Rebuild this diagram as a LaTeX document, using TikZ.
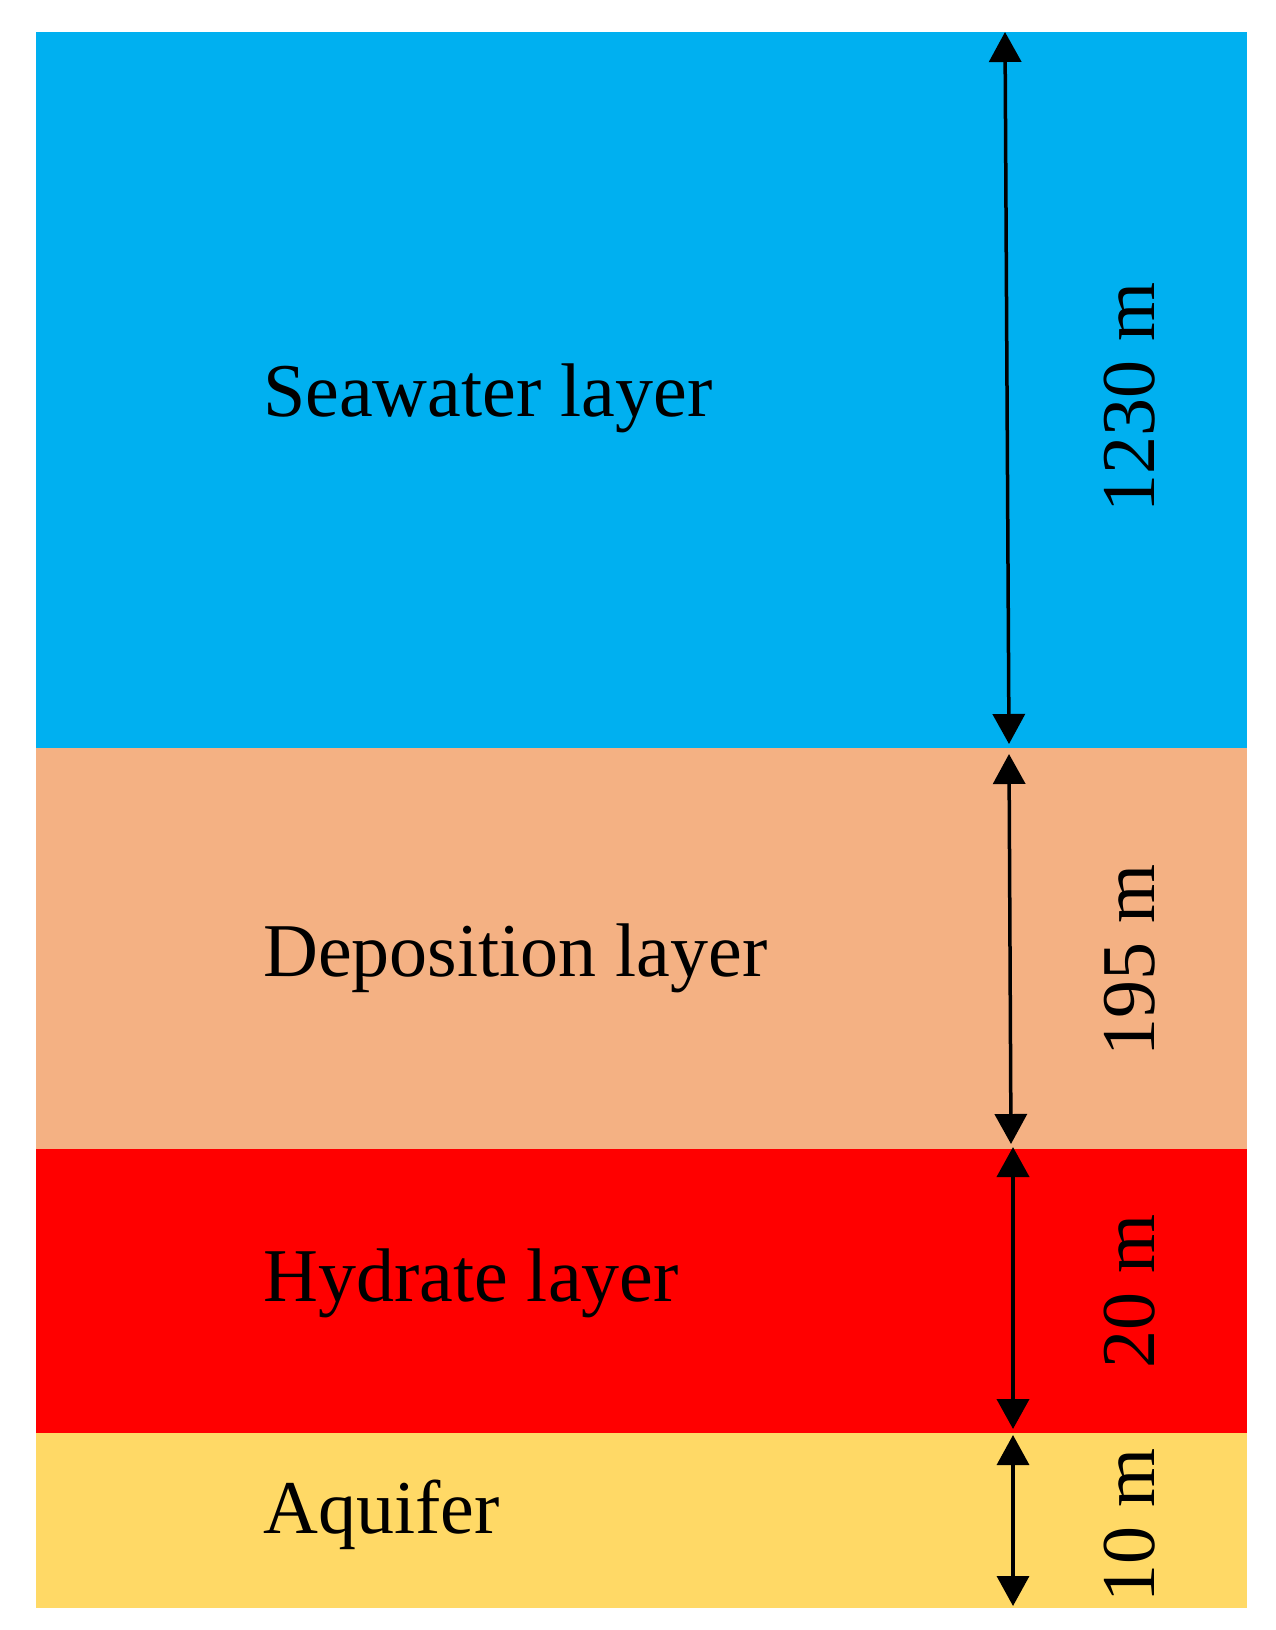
\documentclass[tikz,border=0pt]{standalone}
\usepackage{fontspec}
\setmainfont{Liberation Serif}
\usetikzlibrary{arrows.meta}
\definecolor{seacol}{HTML}{00B0F0}
\definecolor{depcol}{HTML}{F4B183}
\definecolor{hydcol}{HTML}{FF0000}
\definecolor{aqcol}{HTML}{FFD966}
\tikzset{
  layerlabel/.style={anchor=base west,inner sep=0pt,font=\fontsize{76}{80}\selectfont},
  dimlabel/.style={anchor=base,rotate=90,inner sep=0pt,font=\fontsize{76}{80}\selectfont},
  dimarrow/.style={line width=3.5pt,{Triangle[width=32pt,length=30pt]}-{Triangle[width=32pt,length=30pt]}}
}
\begin{document}
\begin{tikzpicture}[x=1pt,y=-1pt]
\useasboundingbox (0,0) rectangle (1275,1630);
\fill[white] (0,0) rectangle (1275,1630);
% layers
\fill[seacol] (36,32) rectangle (1247,748);
\fill[depcol] (36,748) rectangle (1247,1149);
\fill[hydcol] (36,1149) rectangle (1247,1433);
\fill[aqcol] (36,1433) rectangle (1247,1608);
% labels
\node[layerlabel] (sea) at (263,416) {Seawater layer};
\node[layerlabel] (dep) at (263,976) {Deposition layer};
\node[layerlabel] (hyd) at (263,1301) {Hydrate layer};
\node[layerlabel] (aq) at (263,1533) {Aquifer};
% dimension labels
\node[dimlabel] (d1) at (1154,397) {1230 m};
\node[dimlabel] (d2) at (1154,960) {195 m};
\node[dimlabel] (d3) at (1154,1291) {20 m};
\node[dimlabel] (d4) at (1154,1525) {10 m};
% arrow endpoints
\coordinate (a1t) at (1005,32);
\coordinate (a1b) at (1009,744);
\coordinate (a2t) at (1009,754);
\coordinate (a2b) at (1011,1144);
\coordinate (a3t) at (1013,1147);
\coordinate (a3b) at (1013,1429);
\coordinate (a4t) at (1013,1435);
\coordinate (a4b) at (1013,1606);
\draw[dimarrow] (a1t) -- (a1b);
\draw[dimarrow] (a2t) -- (a2b);
\draw[dimarrow,line width=4pt] (a3t) -- (a3b);
\draw[dimarrow] (a4t) -- (a4b);
\end{tikzpicture}
\end{document}
